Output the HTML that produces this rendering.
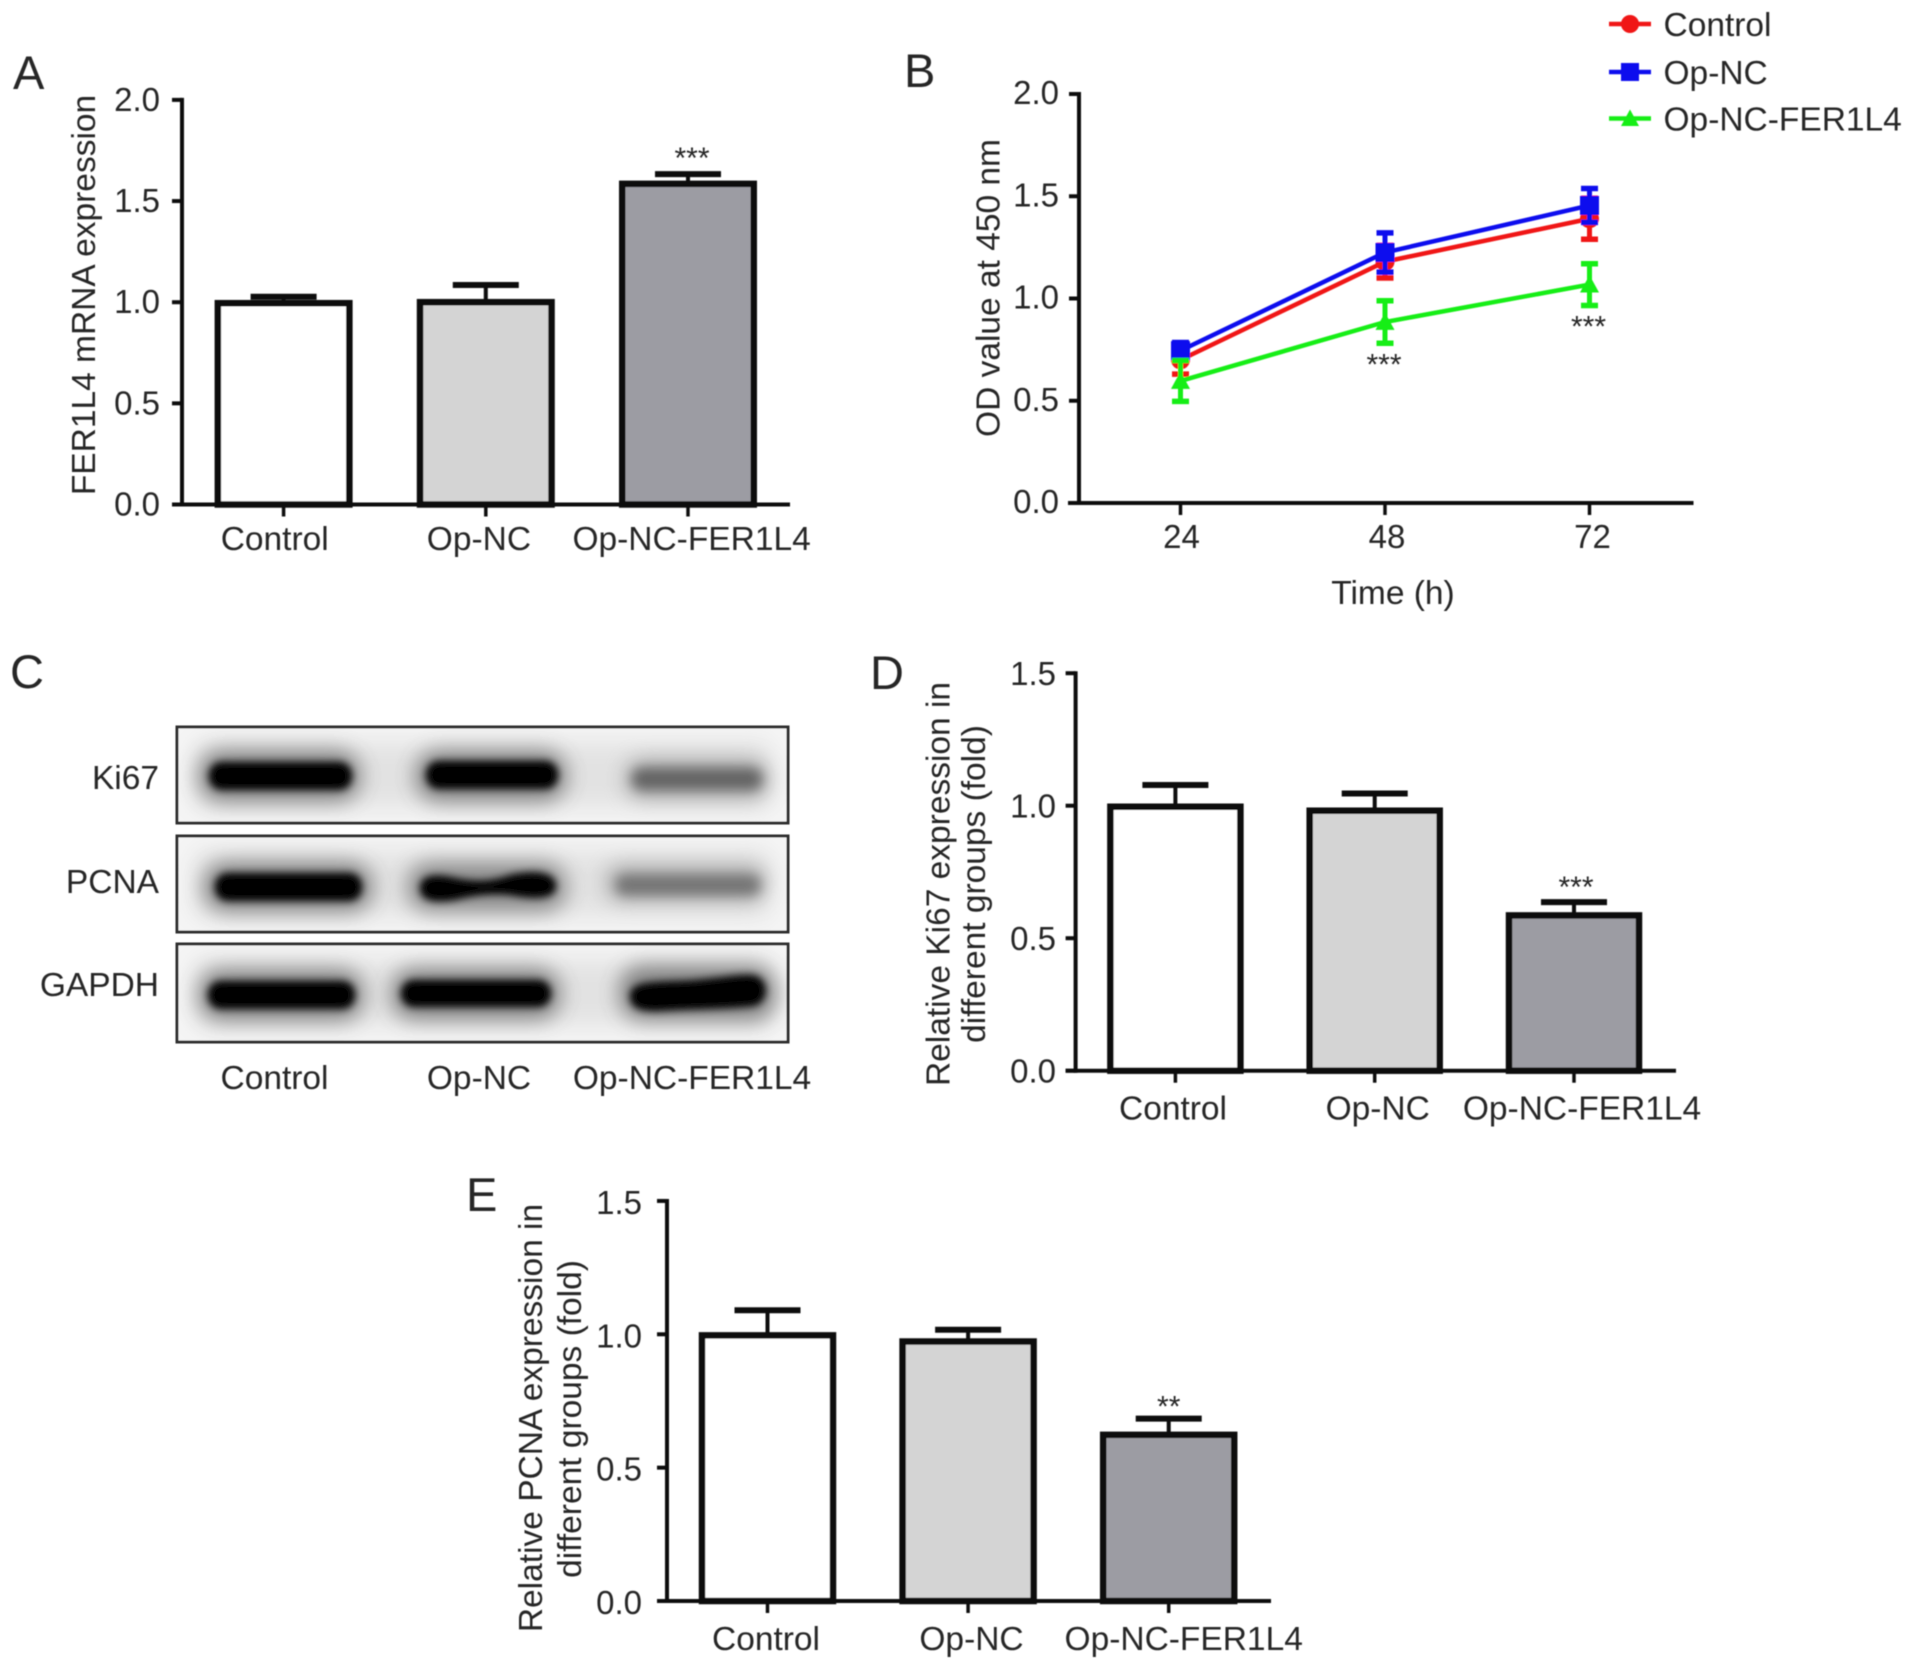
<!DOCTYPE html>
<html lang="en">
<head>
<meta charset="utf-8">
<title>FER1L4 figure panels A–E</title>
<style>
html,body{margin:0;padding:0;background:#fff;}
svg{display:block;}
text{font-family:"Liberation Sans",Arial,sans-serif;fill:#262626;}
</style>
</head>
<body>
<svg id="figure" xmlns="http://www.w3.org/2000/svg" width="1913" height="1669" viewBox="0 0 1913 1669">
<defs>
<filter id="soft" x="-2%" y="-2%" width="104%" height="104%"><feGaussianBlur stdDeviation="0.6"/></filter>
<filter id="b3" x="-20%" y="-80%" width="140%" height="260%"><feGaussianBlur stdDeviation="4"/></filter>
<filter id="b5" x="-20%" y="-80%" width="140%" height="260%"><feGaussianBlur stdDeviation="6"/></filter>
<filter id="b10" x="-20%" y="-100%" width="140%" height="300%"><feGaussianBlur stdDeviation="10"/></filter>
<filter id="b14" x="-10%" y="-30%" width="120%" height="160%"><feGaussianBlur stdDeviation="12"/></filter>
<clipPath id="clip-ki67"><rect x="177" y="727" width="611" height="96"/></clipPath>
<clipPath id="clip-pcna"><rect x="177" y="836" width="611" height="96"/></clipPath>
<clipPath id="clip-gapdh"><rect x="177" y="944" width="611" height="98"/></clipPath>
</defs>
<rect x="0" y="0" width="1913" height="1669" fill="#ffffff"/>
<g id="content" filter="url(#soft)">
  <g id="panel-a"></g>
  <g id="panel-b"></g>
  <g id="panel-c">
    <g clip-path="url(#clip-ki67)">
      <rect x="177" y="727" width="611" height="96" fill="#f5f5f5"/>
      <rect x="195" y="742" width="575" height="66" fill="#e2e2e2" filter="url(#b14)"/>
      <rect x="198" y="750" width="163" height="52" rx="24" fill="#444" opacity=".6" filter="url(#b10)"/>
      <rect x="415" y="750" width="152" height="52" rx="24" fill="#444" opacity=".6" filter="url(#b10)"/>
      <rect x="624" y="758" width="146" height="42" rx="20" fill="#888" opacity=".55" filter="url(#b10)"/>
      <rect x="209" y="762" width="143" height="28" rx="13" fill="#000" filter="url(#b3)"/>
      <rect x="426" y="761" width="132" height="28" rx="13" fill="#000" filter="url(#b3)"/>
      <rect x="632" y="768" width="130" height="22" rx="10" fill="#636363" filter="url(#b5)"/>
    </g>
    <rect x="177" y="727" width="611" height="96" fill="none" stroke="#2e2e2e" stroke-width="3"/>
    <g clip-path="url(#clip-pcna)">
      <rect x="177" y="836" width="611" height="96" fill="#f5f5f5"/>
      <rect x="195" y="851" width="575" height="66" fill="#e2e2e2" filter="url(#b14)"/>
      <rect x="203" y="862" width="170" height="50" rx="24" fill="#444" opacity=".6" filter="url(#b10)"/>
      <rect x="407" y="862" width="160" height="50" rx="24" fill="#444" opacity=".55" filter="url(#b10)"/>
      <rect x="605" y="864" width="162" height="38" rx="18" fill="#888" opacity=".55" filter="url(#b10)"/>
      <rect x="215" y="873" width="147" height="28" rx="13" fill="#000" filter="url(#b3)"/>
      <path d="M420 888C420 873 440 874 455 878C475 882 490 882 510 875C532 870 556 871 556 886C556 901 530 899 510 895C490 893 475 895 455 900C436 903 420 902 420 888Z" fill="#000" filter="url(#b3)"/>
      <rect x="616" y="875" width="144" height="20" rx="9" fill="#737373" filter="url(#b5)"/>
    </g>
    <rect x="177" y="836" width="611" height="96" fill="none" stroke="#2e2e2e" stroke-width="3"/>
    <g clip-path="url(#clip-gapdh)">
      <rect x="177" y="944" width="611" height="98" fill="#f5f5f5"/>
      <rect x="195" y="960" width="575" height="66" fill="#e2e2e2" filter="url(#b14)"/>
      <rect x="198" y="969" width="166" height="52" rx="24" fill="#444" opacity=".6" filter="url(#b10)"/>
      <rect x="391" y="968" width="170" height="52" rx="24" fill="#444" opacity=".6" filter="url(#b10)"/>
      <rect x="619" y="965" width="158" height="56" rx="24" fill="#444" opacity=".6" filter="url(#b10)"/>
      <rect x="208" y="981" width="147" height="28" rx="13" fill="#000" filter="url(#b3)"/>
      <rect x="401" y="980" width="150" height="27" rx="13" fill="#000" filter="url(#b3)"/>
      <path d="M630 996C630 982 650 982 680 981C710 980 735 974 752 975C770 977 770 1002 754 1006C730 1009 690 1009 660 1011C638 1012 630 1007 630 996Z" fill="#000" filter="url(#b3)"/>
    </g>
    <rect x="177" y="944" width="611" height="98" fill="none" stroke="#2e2e2e" stroke-width="3"/>
    <text x="159" y="789" text-anchor="end" font-size="33.5">Ki67</text>
    <text x="159" y="893" text-anchor="end" font-size="33.5">PCNA</text>
    <text x="159" y="996" text-anchor="end" font-size="33.5">GAPDH</text>
    <text x="274.5" y="1089" text-anchor="middle" font-size="33.5">Control</text>
    <text x="479" y="1089" text-anchor="middle" font-size="33.5">Op-NC</text>
    <text x="692" y="1089" text-anchor="middle" font-size="33.5">Op-NC-FER1L4</text>
    <text x="10" y="688" font-size="47">C</text>
  </g>
  <g id="panel-d"></g>
  <g id="panel-e"></g>
</g>
</svg>
<script>
// ---- chart data ----
const barCategories = ['Control', 'Op-NC', 'Op-NC-FER1L4'];
const barFills = ['#ffffff', '#d4d4d4', '#9c9ca3'];

const panelAValues = [0.995, 1.0, 1.585];
const panelAErrors = [0.032, 0.085, 0.048];
const panelATicks = [0, 0.5, 1, 1.5, 2];
const panelATickLabels = ['0.0', '0.5', '1.0', '1.5', '2.0'];
const panelAStars = ['', '', '***'];

const panelDValues = [0.996, 0.981, 0.586];
const panelDErrors = [0.082, 0.065, 0.05];
const panelDTicks = [0, 0.5, 1, 1.5];
const panelDTickLabels = ['0.0', '0.5', '1.0', '1.5'];
const panelDStars = ['', '', '***'];

const panelEValues = [0.996, 0.973, 0.623];
const panelEErrors = [0.094, 0.044, 0.061];
const panelETicks = [0, 0.5, 1, 1.5];
const panelETickLabels = ['0.0', '0.5', '1.0', '1.5'];
const panelEStars = ['', '', '**'];

const timeLabels = ['24', '48', '72'];
const controlMeans = [0.7, 1.18, 1.39];
const controlErrors = [0.07, 0.08, 0.1];
const opNcMeans = [0.745, 1.225, 1.455];
const opNcErrors = [0.04, 0.096, 0.083];
const ferMeans = [0.597, 0.885, 1.068];
const ferErrors = [0.1, 0.104, 0.102];
const ferStars = ['', '***', '***'];
const panelBTicks = [0, 0.5, 1, 1.5, 2];
const panelBTickLabels = ['0.0', '0.5', '1.0', '1.5', '2.0'];

// ---- helpers ----
const NS = 'http://www.w3.org/2000/svg';
function mk(parent, tag, props) {
  const el = document.createElementNS(NS, tag);
  for (const k in props) el.setAttribute(k, props[k]);
  parent.appendChild(el);
  return el;
}
function txt(parent, x, y, str, anchor, size, rot) {
  const el = mk(parent, 'text', {x: x, y: y, 'text-anchor': anchor, 'font-size': size});
  if (rot) el.setAttribute('transform', 'rotate(-90 ' + x + ' ' + y + ')');
  el.textContent = str;
  return el;
}
const INK = '#111111';

function drawYAxis(g, cfg, ticks, tickLabels, yScale) {
  const axis = mk(g, 'line', {x1: cfg.axisX, x2: cfg.axisX, y1: yScale(ticks[ticks.length - 1]) - 2, y2: cfg.y0 + 2, stroke: INK, 'stroke-width': 4});
  
  
  ticks.forEach(function (t, i) {
    const tick = mk(g, 'line', {x1: cfg.axisX - 10, x2: cfg.axisX, y1: yScale(t), y2: yScale(t), stroke: INK, 'stroke-width': 4});
    
    
    const label = txt(g, cfg.tickRight, yScale(t) + cfg.tickDrop, tickLabels[i], 'end', 33);
    
    
  });
}

function drawBarPanel(id, cfg, values, errors, ticks, tickLabels, stars) {
  const g = document.getElementById(id);
  const yScale = function (v) { return cfg.y0 - v * cfg.perUnit; };
  const xScale = function (i) { return cfg.x0 + cfg.step * i; };
  values.forEach(function (v, i) {
    const cx = xScale(i);
    const stem = mk(g, 'line', {x1: cx, x2: cx, y1: yScale(v), y2: yScale(v + errors[i]), stroke: INK, 'stroke-width': 4});
    
    
    const cap = mk(g, 'line', {x1: cx - 33, x2: cx + 33, y1: yScale(v + errors[i]), y2: yScale(v + errors[i]), stroke: INK, 'stroke-width': 6});
    
    
    const bar = mk(g, 'rect', {x: cx - cfg.barW / 2 + 3.25, y: yScale(v), width: cfg.barW - 6.5, height: cfg.y0 - yScale(v), fill: barFills[i], stroke: INK, 'stroke-width': 6.5});
    
    
    const tick = mk(g, 'line', {x1: cx, x2: cx, y1: cfg.y0, y2: cfg.y0 + 12, stroke: INK, 'stroke-width': 3.5});
    
    
    const label = txt(g, cx + cfg.labelShift[i], cfg.labelY, barCategories[i], 'middle', 33.5);
    
    
    if (stars[i]) {
      const star = txt(g, cx + cfg.starShift, yScale(v + errors[i]) - cfg.starGap, stars[i], 'middle', 30);
      
      
    }
  });
  const base = mk(g, 'line', {x1: cfg.axisX - 10, x2: cfg.baseEnd, y1: cfg.y0, y2: cfg.y0, stroke: INK, 'stroke-width': 4});
  
  
  drawYAxis(g, cfg, ticks, tickLabels, yScale);
  cfg.titles.forEach(function (t) {
    const title = txt(g, t.x, t.y, t.text, 'middle', 33.5, true);
    
    
  });
  const letter = txt(g, cfg.letter.x, cfg.letter.y, cfg.letter.text, 'start', 47);
  
  
}

drawBarPanel('panel-a', {
  axisX: 182, y0: 504.5, perUnit: 202.3, x0: 283.6, step: 202.2, barW: 138, baseEnd: 790, tickRight: 160, tickDrop: 11,
  labelY: 550, labelShift: [-8.9, -6.9, 3.6], starShift: 4, starGap: 6,
  titles: [{x: 95, y: 295, text: 'FER1L4 mRNA expression'}],
  letter: {x: 13, y: 89, text: 'A'}
}, panelAValues, panelAErrors, panelATicks, panelATickLabels, panelAStars);

drawBarPanel('panel-d', {
  axisX: 1075.6, y0: 1070.7, perUnit: 265, x0: 1175.4, step: 199.3, barW: 136.5, baseEnd: 1676, tickRight: 1056, tickDrop: 12,
  labelY: 1119.5, labelShift: [-2.4, 3, 8], starShift: 2, starGap: 5,
  titles: [{x: 949.5, y: 884, text: 'Relative Ki67 expression in'}, {x: 985, y: 884, text: 'different groups (fold)'}],
  letter: {x: 870, y: 689, text: 'D'}
}, panelDValues, panelDErrors, panelDTicks, panelDTickLabels, panelDStars);

drawBarPanel('panel-e', {
  axisX: 667, y0: 1601, perUnit: 266.7, x0: 767.5, step: 200.6, barW: 137.5, baseEnd: 1271, tickRight: 642, tickDrop: 13,
  labelY: 1650, labelShift: [-1.5, 3.4, 15], starShift: 0, starGap: 2,
  titles: [{x: 542, y: 1418, text: 'Relative PCNA expression in'}, {x: 581, y: 1419, text: 'different groups (fold)'}],
  letter: {x: 466, y: 1211, text: 'E'}
}, panelEValues, panelEErrors, panelETicks, panelETickLabels, panelEStars);

// ---- panel B line chart ----
(function () {
  const g = document.getElementById('panel-b');
  const cfg = {axisX: 1079, y0: 503, perUnit: 204.5, tickRight: 1059, tickDrop: 10};
  const yScale = function (v) { return cfg.y0 - v * cfg.perUnit; };
  const xScale = function (i) { return 1180.5 + 204.5 * i; };

  function marker(parent, kind, x, y, color, size) {
    if (kind === 'circle') return mk(parent, 'circle', {cx: x, cy: y, r: size / 2, fill: color});
    if (kind === 'square') return mk(parent, 'rect', {x: x - size / 2, y: y - size / 2, width: size, height: size, fill: color});
    return mk(parent, 'polygon', {points: (x - size / 2) + ',' + (y + size / 2.4) + ' ' + (x + size / 2) + ',' + (y + size / 2.4) + ' ' + x + ',' + (y - size / 2), fill: color});
  }

  const series = [
    {name: 'control', label: 'Control', means: controlMeans, errors: controlErrors, color: '#f01414', kind: 'circle', legendY: 24},
    {name: 'op-nc', label: 'Op-NC', means: opNcMeans, errors: opNcErrors, color: '#1010ee', kind: 'square', legendY: 72},
    {name: 'op-nc-fer1l4', label: 'Op-NC-FER1L4', means: ferMeans, errors: ferErrors, color: '#14ee14', kind: 'triangle', legendY: 118.5}
  ];

  series.forEach(function (s) {
    const sg = mk(g, 'g', {});
    
    
    s.means.forEach(function (m, i) {
      const x = xScale(i);
      const stem = mk(sg, 'line', {x1: x, x2: x, y1: yScale(m - s.errors[i]), y2: yScale(m + s.errors[i]), stroke: s.color, 'stroke-width': 5});
      
      
      [m - s.errors[i], m + s.errors[i]].forEach(function (e) {
        const cap = mk(sg, 'line', {x1: x - 8.5, x2: x + 8.5, y1: yScale(e), y2: yScale(e), stroke: s.color, 'stroke-width': 5.5});
        
        
      });
    });
    const pts = s.means.map(function (m, i) { return xScale(i) + ',' + yScale(m); }).join(' ');
    const line = mk(sg, 'polyline', {points: pts, fill: 'none', stroke: s.color, 'stroke-width': 4.5});
    
    
    s.means.forEach(function (m, i) {
      const pt = marker(sg, s.kind, xScale(i), yScale(m), s.color, 19);
      
      
    });
    const legLine = mk(g, 'line', {x1: 1609, x2: 1651, y1: s.legendY, y2: s.legendY, stroke: s.color, 'stroke-width': 4.5});
    
    
    const legMark = marker(g, s.kind, 1630, s.legendY, s.color, 18);
    
    
    const legText = txt(g, 1663.5, s.legendY + 12, s.label, 'start', 33.5);
    
    
  });

  timeLabels.forEach(function (t, i) {
    const x = xScale(i);
    const tick = mk(g, 'line', {x1: x, x2: x, y1: cfg.y0, y2: cfg.y0 + 12, stroke: INK, 'stroke-width': 3.5});
    
    
    const label = txt(g, x + 1 + i, 548, t, 'middle', 33);
    
    
    if (ferStars[i]) {
      const star = txt(g, x - 1, yScale(ferMeans[i] - ferErrors[i]) + 31, ferStars[i], 'middle', 30);
      
      
    }
  });
  const base = mk(g, 'line', {x1: 1068, x2: 1693.5, y1: cfg.y0, y2: cfg.y0, stroke: INK, 'stroke-width': 4});
  
  
  drawYAxis(g, cfg, panelBTicks, panelBTickLabels, yScale);
  const xTitle = txt(g, 1393, 604, 'Time (h)', 'middle', 33.5);
  
  
  const yTitle = txt(g, 999.5, 288, 'OD value at 450 nm', 'middle', 33.5, true);
  
  
  const letter = txt(g, 904, 87, 'B', 'start', 47);
  
  
})();
</script>
</body>
</html>
